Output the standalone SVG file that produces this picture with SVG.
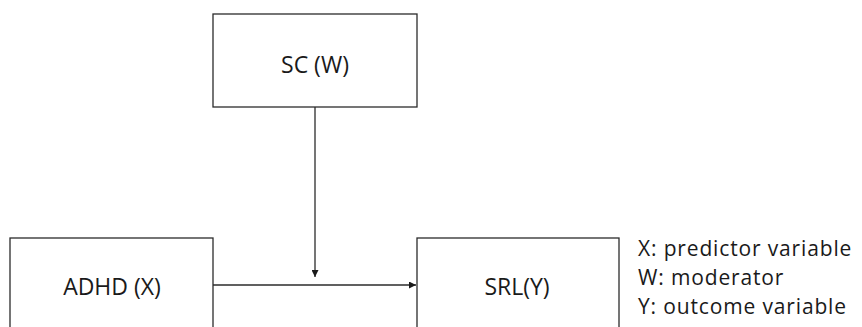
<svg xmlns="http://www.w3.org/2000/svg" width="862" height="327" viewBox="0 0 862 327">
<style>
.box{fill:#ffffff;stroke:#2b2b2b;stroke-width:1.3}
.lbl{font-family:"Open Sans","Liberation Sans",sans-serif;font-size:23px;fill:#1a1a1a;text-anchor:middle}
.leg{font-family:"Open Sans","Liberation Sans",sans-serif;font-size:21px;letter-spacing:0.85px;fill:#1a1a1a}
.con{stroke:#2b2b2b;stroke-width:1.3;fill:none}
</style>
<defs>
<marker id="arr" viewBox="0 0 10 10" refX="10" refY="5" markerWidth="7" markerHeight="7" markerUnits="userSpaceOnUse" orient="auto">
<path d="M0,0 L10,5 L0,10 z" fill="#1a1a1a"/>
</marker>
</defs>
<rect width="862" height="327" fill="#ffffff"/>
<g id="node-sc">
<rect class="box" x="213" y="14" width="204" height="93"/>
<text class="lbl" x="315" y="73">SC (W)</text>
</g>
<g id="node-adhd">
<rect class="box" x="10" y="238" width="203" height="100"/>
<text class="lbl" x="112" y="295">ADHD (X)</text>
</g>
<g id="node-srl">
<rect class="box" x="417" y="238" width="202" height="100"/>
<text class="lbl" x="517" y="295">SRL(Y)</text>
</g>
<g id="connectors">
<line class="con" x1="315" y1="107" x2="315" y2="277" marker-end="url(#arr)"/>
<line class="con" x1="213" y1="285" x2="416" y2="285" marker-end="url(#arr)"/>
</g>
<g id="legend">
<text class="leg" x="638" y="256">X: predictor variable</text>
<text class="leg" x="638" y="285">W: moderator</text>
<text class="leg" x="638" y="314">Y: outcome variable</text>
</g>
</svg>
